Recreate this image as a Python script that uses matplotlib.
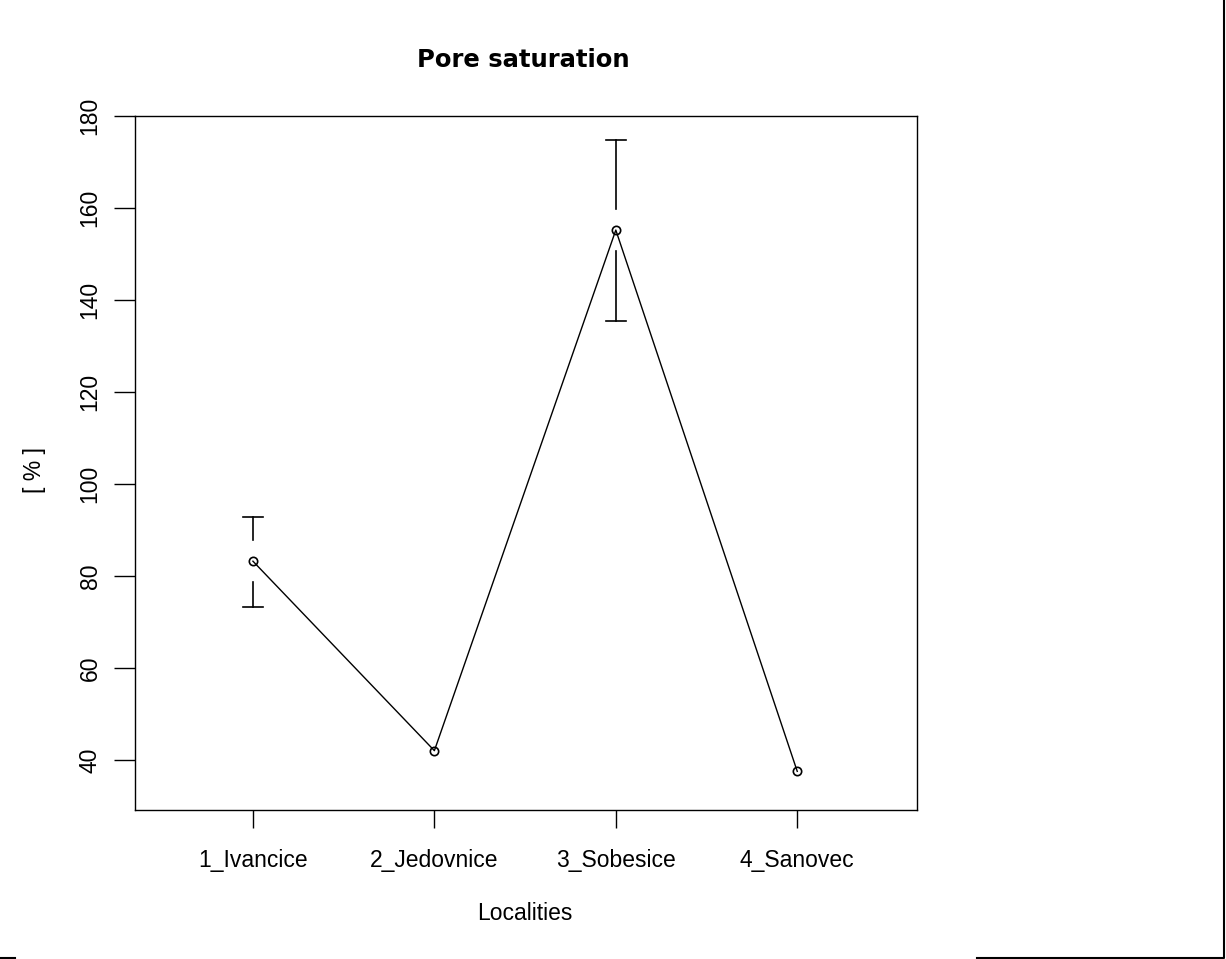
import matplotlib
matplotlib.use("Agg")
import matplotlib.pyplot as plt
from matplotlib.lines import Line2D
import numpy as np

# data
localities = ['1_Ivancice', '2_Jedovnice', '3_Sobesice', '4_Sanovec']
means = [83.2, 42.0, 155.2, 37.5]
upper = [92.8, np.nan, 174.8, np.nan]
lower = [73.3, np.nan, 135.5, np.nan]
yticks = [40, 60, 80, 100, 120, 140, 160, 180]

fig = plt.figure(figsize=(12.26, 9.59), dpi=100)
ax = fig.add_axes([135 / 1226, 149 / 959, 782 / 1226, 694 / 959])

x = np.arange(1, len(localities) + 1)

# linea con circulos abiertos
ax.plot(x, means, color='black', lw=1.0, marker='o', markersize=6,
        markerfacecolor='none', markeredgecolor='black', markeredgewidth=1.2)

# barras de error con hueco alrededor del punto
gap = 4.6
cap = 0.055
for xi, m, hi, lo in zip(x, means, upper, lower):
    if not np.isnan(hi):
        ax.plot([xi, xi], [m + gap, hi], color='black', lw=1.2)
        ax.plot([xi - cap, xi + cap], [hi, hi], color='black', lw=1.2)
    if not np.isnan(lo):
        ax.plot([xi, xi], [m - gap, lo], color='black', lw=1.2)
        ax.plot([xi - cap, xi + cap], [lo, lo], color='black', lw=1.2)

ax.set_xlim(0.35, 4.66)
ax.set_ylim(29.1, 180)

fs = 16.5
ax.set_xticks(x)
ax.set_xticklabels(localities, family='Liberation Sans', fontsize=fs)
ax.set_yticks(yticks)
ax.set_yticklabels([str(v) for v in yticks], family='Liberation Sans',
                   fontsize=fs, rotation=90, va='center')
ax.tick_params(axis='both', direction='out', width=1.0, color='black')
ax.tick_params(axis='x', length=13, pad=15)
ax.tick_params(axis='y', length=15, pad=9)

for s in ax.spines.values():
    s.set_linewidth(1.0)
    s.set_color('black')

fig.text(523 / 1226, 1 - 60 / 959, 'Pore saturation', ha='center', va='center',
         fontsize=17.5, fontweight='bold', family='DejaVu Sans')
fig.text(525 / 1226, 1 - 913 / 959, 'Localities', ha='center', va='center',
         fontsize=fs, family='Liberation Sans')
fig.text(35 / 1226, 1 - 470 / 959, '[ % ]', ha='center', va='center',
         fontsize=fs, family='Liberation Sans', rotation=90)

# restos del marco alrededor de la imagen
fig.add_artist(Line2D([0, 15 / 1226], [1 / 959, 1 / 959], color='black', lw=1.5,
                      transform=fig.transFigure))
fig.add_artist(Line2D([977 / 1226, 1224 / 1226, 1224 / 1226],
                      [1 / 959, 1 / 959, 1.0], color='black', lw=1.5,
                      transform=fig.transFigure))

fig.savefig('out.png', dpi=100)
plt.close(fig)
